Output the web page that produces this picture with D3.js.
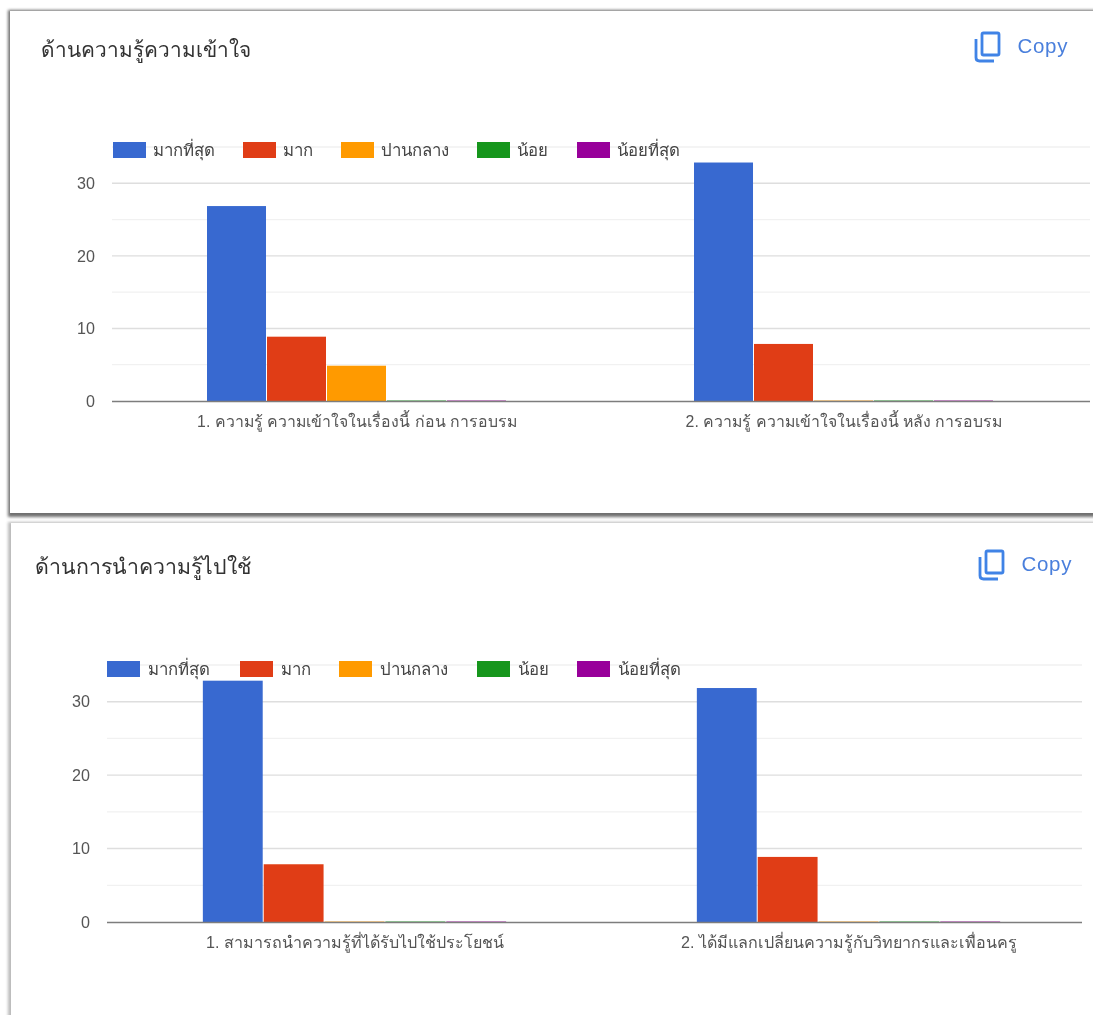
<!DOCTYPE html>
<html lang="th">

<head>
    <meta charset="UTF-8">
    <title>Bar Charts</title>
    <script src="https://d3js.org/d3.v7.min.js"></script>
    <style>
        html, body { margin: 0; padding: 0; background: #fff; overflow: hidden; }
        svg { display: block; }
        text { font-family: "Liberation Sans", "Noto Sans", "DejaVu Sans", sans-serif; }
        .axis path, .axis line { display: none; }
        .axis text { font-size: 16.1px; fill: #555; }
    </style>
</head>

<body>
    <svg id="chart" width="1093" height="1015"></svg>
    <script>
        const seriesNames = ["มากที่สุด", "มาก", "ปานกลาง", "น้อย", "น้อยที่สุด"];
        const seriesColors = ["#3869d0", "#e03e15", "#ff9a00", "#14961a", "#98009a"];
        const majorTicks = [0, 10, 20, 30];
        const minorTicks = [5, 15, 25, 35];

        const title1 = "ด้านความรู้ความเข้าใจ";
        const categories1 = ["1. ความรู้ ความเข้าใจในเรื่องนี้ ก่อน การอบรม", "2. ความรู้ ความเข้าใจในเรื่องนี้ หลัง การอบรม"];
        const values1 = [[27, 33], [9, 8], [5, 0], [0, 0], [0, 0]];

        const title2 = "ด้านการนำความรู้ไปใช้";
        const categories2 = ["1. สามารถนำความรู้ที่ได้รับไปใช้ประโยชน์", "2. ได้มีแลกเปลี่ยนความรู้กับวิทยากรและเพื่อนครู"];
        const values2 = [[33, 32], [8, 9], [0, 0], [0, 0], [0, 0]];

        let svg = d3.select("#chart");

        let defs = svg.append("defs");
        defs.append("filter").attr("id", "soft")
            .attr("x", "-2%").attr("y", "-2%").attr("width", "104%").attr("height", "104%")
            .append("feGaussianBlur").attr("stdDeviation", 0.45);
        defs.append("filter").attr("id", "shadow")
            .append("feGaussianBlur").attr("stdDeviation", 1.4);

        let root = svg.append("g").attr("filter", "url(#soft)");

        // panel frames
        root.append("rect").attr("x", 8).attr("y", 10).attr("width", 1100).attr("height", 507)
            .attr("fill", "#6f6f6f").attr("filter", "url(#shadow)");
        root.append("rect").attr("x", 10).attr("y", 11).attr("width", 1100).attr("height", 502)
            .attr("fill", "#fff");
        root.append("rect").attr("x", 8).attr("y", 522).attr("width", 1100).attr("height", 520)
            .attr("fill", "#bbb").attr("filter", "url(#shadow)");
        root.append("rect").attr("x", 11).attr("y", 523).attr("width", 1100).attr("height", 520)
            .attr("fill", "#fff");

        function drawPanel(p) {
            let g = root.append("g");

            g.append("text")
                .attr("x", p.titleX).attr("y", p.titleY)
                .attr("font-size", p.titleSize).attr("fill", "#333")
                .text(p.title);

            // copy icon and label
            let copy = g.append("g").attr("transform", `translate(${p.copyX},${p.copyY})`)
                .attr("fill", "none").attr("stroke", "#3f83e6").attr("stroke-width", 2.8);
            copy.append("rect").attr("x", 7).attr("y", 0).attr("width", 17).attr("height", 22).attr("rx", 1.5);
            copy.append("path").attr("d", "M1,6 V24.5 Q1,28 4.5,28 H19");
            g.append("text")
                .attr("x", p.copyX + 42.5).attr("y", p.copyY + 20)
                .attr("font-family", "Roboto, sans-serif")
                .attr("font-size", 20.5).attr("letter-spacing", 0.7).attr("fill", "#4a7fdc")
                .text("Copy");

            let y = d3.scaleLinear().domain([0, 35]).range([p.y0, p.y35]);
            let x0 = d3.scaleBand().domain(p.categories).range(p.xRange)
                .paddingInner(p.padding).paddingOuter(p.padding / 2);
            let x1 = d3.scaleBand().domain(d3.range(seriesNames.length)).range([0, x0.bandwidth()]);

            // gridlines
            g.selectAll(".minor").data(minorTicks).enter().append("line")
                .attr("x1", p.axisX[0]).attr("x2", p.axisX[1])
                .attr("y1", d => y(d)).attr("y2", d => y(d))
                .attr("stroke", "#f1f1f1").attr("stroke-width", 1.3);
            g.selectAll(".major").data(majorTicks.slice(1)).enter().append("line")
                .attr("x1", p.axisX[0]).attr("x2", p.axisX[1])
                .attr("y1", d => y(d)).attr("y2", d => y(d))
                .attr("stroke", "#dedede").attr("stroke-width", 1.4);

            // bars
            let groups = g.selectAll(".group").data(p.categories).enter().append("g")
                .attr("transform", d => `translate(${x0(d)},0)`);
            groups.each(function (cat, c) {
                d3.select(this).selectAll("rect")
                    .data(p.values.map(s => s[c]))
                    .enter().append("rect")
                    .attr("x", (d, i) => x1(i))
                    .attr("width", x1.bandwidth() - 1)
                    .attr("y", d => d > 0 ? y(d) + 1 : y(0) - 1)
                    .attr("height", d => d > 0 ? y(0) - y(d) - 1 : 1)
                    .attr("fill", (d, i) => seriesColors[i])
                    .attr("opacity", d => d > 0 ? 1 : 0.45);
            });

            // legend sits over the bars
            let legend = g.selectAll(".legend").data(seriesNames).enter().append("g")
                .attr("transform", (d, i) => `translate(${p.legendX[i]},${p.legendY})`);
            legend.append("rect").attr("width", 33).attr("height", 16)
                .attr("fill", (d, i) => seriesColors[i]);
            legend.append("text").attr("x", p.legendText).attr("y", 14)
                .attr("font-size", 16.8).attr("fill", "#444")
                .text(d => d);

            // baseline
            g.append("line")
                .attr("x1", p.axisX[0]).attr("x2", p.axisX[1])
                .attr("y1", y(0) + 0.5).attr("y2", y(0) + 0.5)
                .attr("stroke", "#7d7d7d").attr("stroke-width", 1.6);

            let yAxis = g.append("g").attr("class", "axis")
                .attr("transform", `translate(${p.axisX[0] - 17},0)`)
                .call(d3.axisLeft(y).tickValues(majorTicks).tickSize(0).tickPadding(0));
            yAxis.selectAll("text").attr("dy", "0.32em");

            let xAxis = g.append("g").attr("class", "axis")
                .attr("transform", `translate(0,${p.y0 + 26})`)
                .call(d3.axisBottom(x0).tickSize(0).tickPadding(0));
            xAxis.selectAll("text").attr("y", 0).attr("dy", 0).attr("text-anchor", "middle")
                .style("font-size", p.labelSize + "px");
        }

        drawPanel({
            title: title1, categories: categories1, values: values1,
            titleX: 41, titleY: 57, titleSize: 20.8, labelSize: 15.85, copyX: 975, copyY: 33,
            y0: 401, y35: 147, xRange: [113.5, 1087.5], padding: 0.384, axisX: [112, 1090],
            legendX: [113, 243, 341, 477, 577], legendY: 142, legendText: 40
        });
        drawPanel({
            title: title2, categories: categories2, values: values2,
            titleX: 35, titleY: 574, titleSize: 21.3, labelSize: 16.1, copyX: 979, copyY: 551,
            y0: 922, y35: 665, xRange: [108, 1096], padding: 0.384, axisX: [107, 1082],
            legendX: [107, 240, 339, 477, 577], legendY: 661, legendText: 41
        });
    </script>
</body>

</html>
